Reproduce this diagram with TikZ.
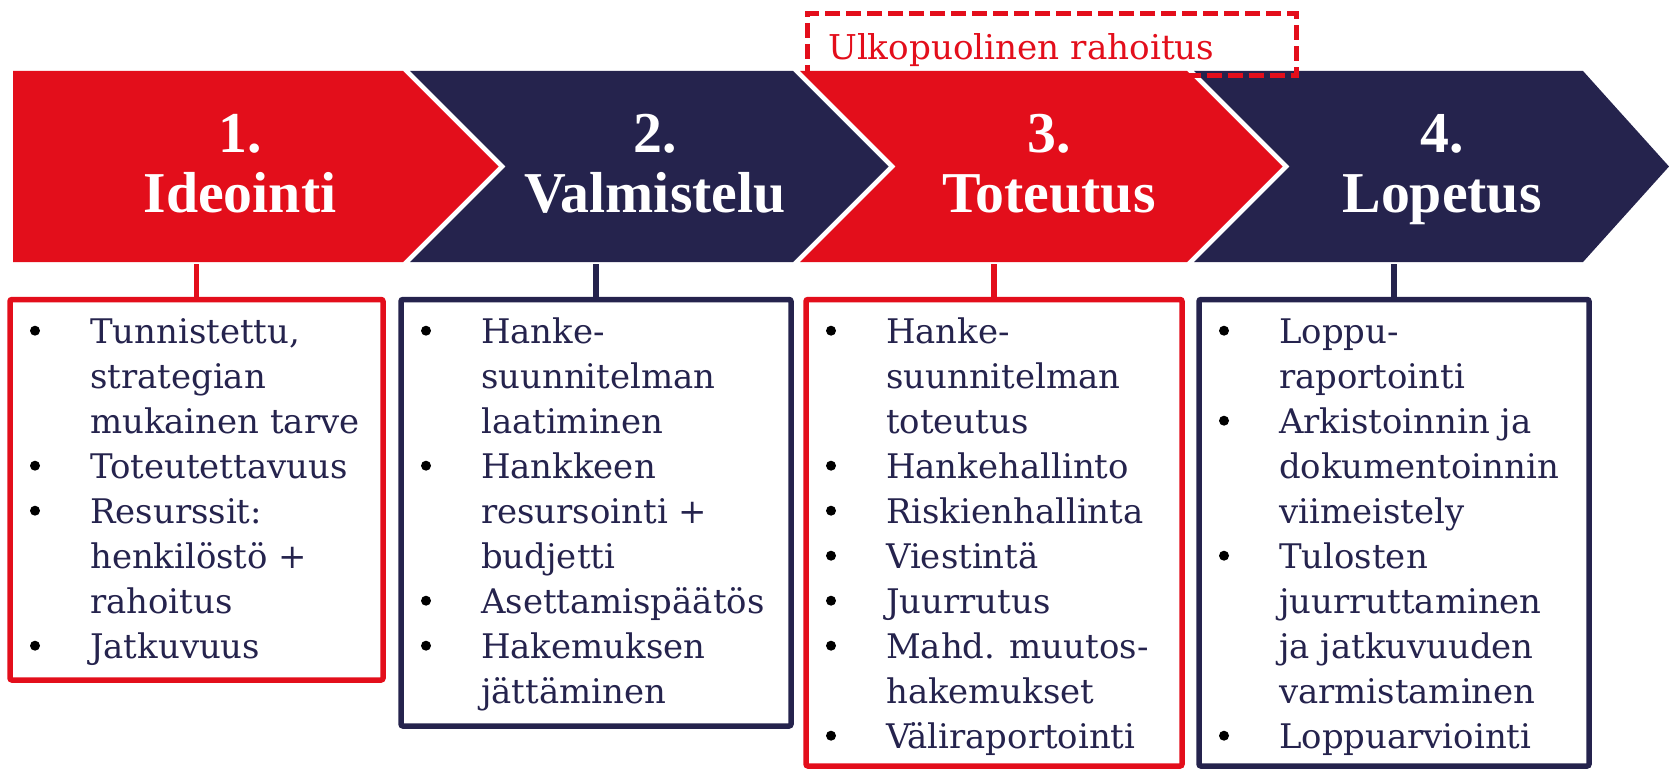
\documentclass[tikz,border=0pt]{standalone}
\usepackage{fontspec}
\setmainfont{DejaVu Serif}
\newfontfamily\titlefont{Liberation Serif}
\definecolor{hred}{RGB}{227,14,27}
\definecolor{hnavy}{RGB}{37,35,77}
\newcommand\itemrow[4]{\node[bodytxt] (#1) at (#2, 343.3+45*#3) {#4};}
\newcommand\itemdot[2]{\fill[black] (#1, 343.3+45*#2-12.6) circle[radius=5];}
\begin{document}
\begin{tikzpicture}[x=1pt,y=-1pt,
  chev/.style={fill=#1, draw=none},
  listbox/.style={draw=#1, line width=5.5pt, rounded corners=2pt, rectangle, inner sep=0pt, outer sep=0pt, anchor=north west},
  bodytxt/.style={text=hnavy, font=\fontsize{33.9}{45}\selectfont, inner sep=0pt, anchor=base west},
  ttl/.style={text=white, font=\titlefont\bfseries\fontsize{57.8}{60}\selectfont, inner sep=0pt, anchor=base},
  link/.style={line width=5.5pt, draw=#1},
  dashbox/.style={draw=hred, line width=5pt, dash pattern=on 15pt off 6pt, rectangle, inner sep=0pt, outer sep=0pt, anchor=north west}
]
\useasboundingbox (0,0) rectangle (1669,770);

% chevrons
\fill[chev=hred] (13,71) -- (403,71) -- (498.5,166.5) -- (403,262) -- (13,262) -- cycle;
\fill[chev=hnavy] (410,71) -- (793,71) -- (888.5,166.5) -- (793,262) -- (410,262) -- (505.5,166.5) -- cycle;
\fill[chev=hred] (800,71) -- (1187,71) -- (1282.5,166.5) -- (1187,262) -- (800,262) -- (895.5,166.5) -- cycle;
\fill[chev=hnavy] (1194,71) -- (1583,71) -- (1669,166.5) -- (1583,262) -- (1194,262) -- (1289.5,166.5) -- cycle;

% dashed box
\node[dashbox, minimum width=489pt, minimum height=62.4pt] (ext) at (807.6,13.4) {};
\node[text=hred, font=\fontsize{34.2}{40}\selectfont, inner sep=0pt, anchor=base west] (extl) at (828,60) {Ulkopuolinen rahoitus};

% titles
\node[ttl] (t1a) at (240,153) {1.};
\node[ttl] (t1b) at (240,212) {Ideointi};
\node[ttl] (t2a) at (655,153) {2.};
\node[ttl] (t2b) at (655,212) {Valmistelu};
\node[ttl] (t3a) at (1049,153) {3.};
\node[ttl] (t3b) at (1049,212) {Toteutus};
\node[ttl] (t4a) at (1442,153) {4.};
\node[ttl] (t4b) at (1442,212) {Lopetus};

% boxes
\node[listbox=hred, minimum width=373pt, minimum height=380.5pt] (b1) at (10,299.5) {};
\node[listbox=hnavy, minimum width=390pt, minimum height=426.5pt] (b2) at (401,299.5) {};
\node[listbox=hred, minimum width=376pt, minimum height=466.5pt] (b3) at (806,299.5) {};
\node[listbox=hnavy, minimum width=390pt, minimum height=466.5pt] (b4) at (1199,299.5) {};

% connectors
\coordinate (k1) at (196.5,264);
\coordinate (k2) at (596,264);
\coordinate (k3) at (994,264);
\coordinate (k4) at (1394,264);
\draw[link=hred] (k1) -- (b1.north);
\draw[link=hnavy] (k2) -- (b2.north);
\draw[link=hred] (k3) -- (b3.north);
\draw[link=hnavy] (k4) -- (b4.north);

% box 1
\itemdot{35}{0}\itemdot{35}{3}\itemdot{35}{4}\itemdot{35}{7}
\itemrow{a0}{90}{0}{Tunnistettu,}
\itemrow{a1}{90}{1}{strategian}
\itemrow{a2}{90}{2}{mukainen tarve}
\itemrow{a3}{90}{3}{Toteutettavuus}
\itemrow{a4}{90}{4}{Resurssit:}
\itemrow{a5}{90}{5}{henkilöstö +}
\itemrow{a6}{90}{6}{rahoitus}
\itemrow{a7}{90}{7}{Jatkuvuus}

% box 2
\itemdot{426}{0}\itemdot{426}{3}\itemdot{426}{6}\itemdot{426}{7}
\itemrow{c0}{481}{0}{Hanke-}
\itemrow{c1}{481}{1}{suunnitelman}
\itemrow{c2}{481}{2}{laatiminen}
\itemrow{c3}{481}{3}{Hankkeen}
\itemrow{c4}{481}{4}{resursointi +}
\itemrow{c5}{481}{5}{budjetti}
\itemrow{c6}{481}{6}{Asettamispäätös}
\itemrow{c7}{481}{7}{Hakemuksen}
\itemrow{c8}{481}{8}{jättäminen}

% box 3
\itemdot{831}{0}\itemdot{831}{3}\itemdot{831}{4}\itemdot{831}{5}\itemdot{831}{6}\itemdot{831}{7}\itemdot{831}{9}
\itemrow{d0}{886}{0}{Hanke-}
\itemrow{d1}{886}{1}{suunnitelman}
\itemrow{d2}{886}{2}{toteutus}
\itemrow{d3}{886}{3}{Hankehallinto}
\itemrow{d4}{886}{4}{Riskienhallinta}
\itemrow{d5}{886}{5}{Viestintä}
\itemrow{d6}{886}{6}{Juurrutus}
\itemrow{d7}{886}{7}{Mahd. muutos-}
\itemrow{d8}{886}{8}{hakemukset}
\itemrow{d9}{886}{9}{Väliraportointi}

% box 4
\itemdot{1224}{0}\itemdot{1224}{2}\itemdot{1224}{5}\itemdot{1224}{9}
\itemrow{e0}{1279}{0}{Loppu-}
\itemrow{e1}{1279}{1}{raportointi}
\itemrow{e2}{1279}{2}{Arkistoinnin ja}
\itemrow{e3}{1279}{3}{dokumentoinnin}
\itemrow{e4}{1279}{4}{viimeistely}
\itemrow{e5}{1279}{5}{Tulosten}
\itemrow{e6}{1279}{6}{juurruttaminen}
\itemrow{e7}{1279}{7}{ja jatkuvuuden}
\itemrow{e8}{1279}{8}{varmistaminen}
\itemrow{e9}{1279}{9}{Loppuarviointi}
\end{tikzpicture}
\end{document}
